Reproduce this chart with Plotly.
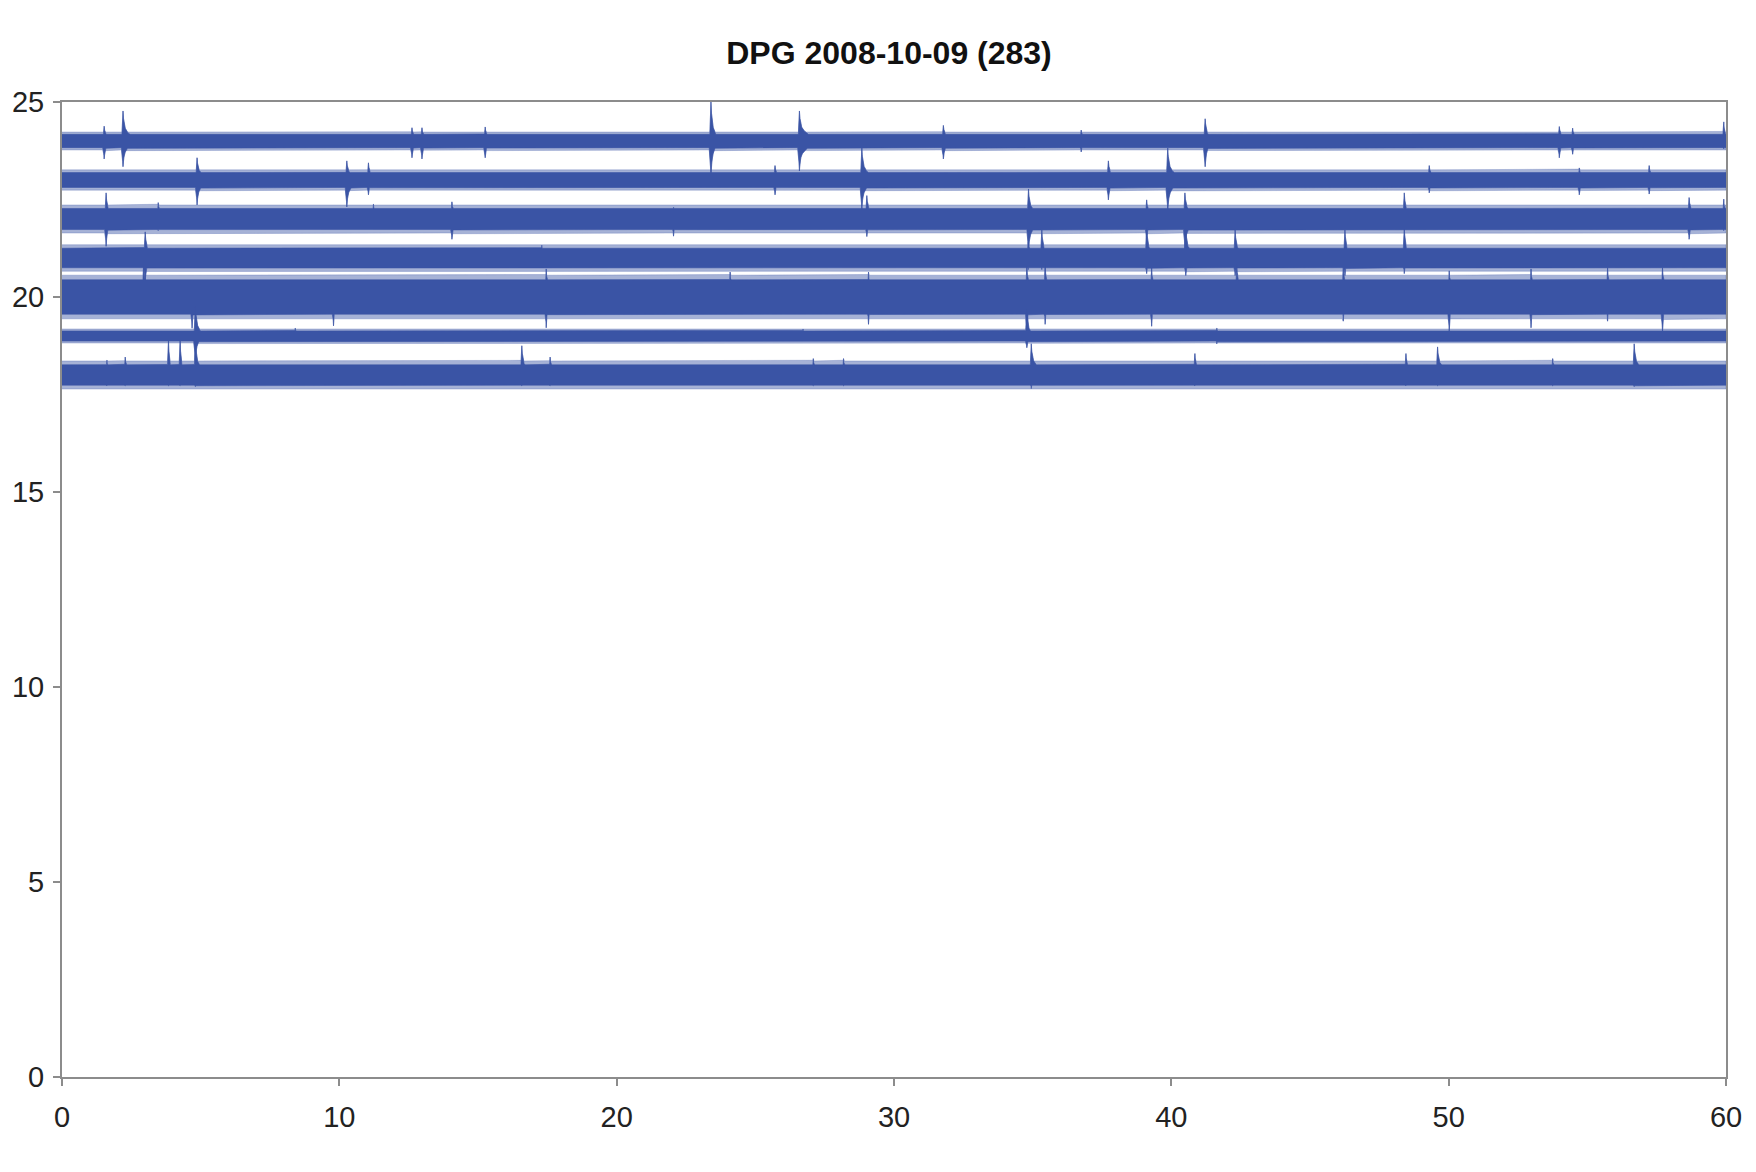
import numpy as np
import plotly.graph_objects as go

# ---------------- data ----------------
TITLE = "DPG 2008-10-09 (283)"
X_TICKS = [0, 10, 20, 30, 40, 50, 60]
Y_TICKS = [0, 5, 10, 15, 20, 25]

# Hour rows visible in the reference (vertical offsets of each trace)
row_offsets = [24, 23, 22, 21, 20, 19, 18]
# Background noise half-amplitude of each row (y units): dense core and fuzzy edge
noise_core = [0.17, 0.19, 0.27, 0.25, 0.44, 0.13, 0.26]
noise_edge = [0.23, 0.26, 0.36, 0.34, 0.56, 0.18, 0.36]

# Events per row: (minute, amplitude up, amplitude down, coda length in minutes)
events_24 = [(1.52, 0.38, 0.46, 0.15), (2.20, 0.77, 0.66, 0.25), (12.62, 0.34, 0.43, 0.12),
             (12.98, 0.34, 0.46, 0.12), (15.26, 0.36, 0.43, 0.10), (23.40, 1.00, 0.90, 0.15),
             (26.59, 0.77, 0.77, 0.35), (31.78, 0.40, 0.46, 0.20), (36.75, 0.28, 0.28, 0.10),
             (41.22, 0.57, 0.66, 0.15), (53.99, 0.37, 0.43, 0.12), (54.47, 0.33, 0.34, 0.10),
             (59.92, 0.49, 0.20, 0.05)]
events_23 = [(4.87, 0.57, 0.64, 0.25), (10.27, 0.49, 0.69, 0.25), (11.05, 0.44, 0.38, 0.10),
             (25.71, 0.37, 0.38, 0.12), (28.84, 0.82, 0.75, 0.25), (37.73, 0.49, 0.51, 0.15),
             (39.87, 0.82, 0.80, 0.25), (49.30, 0.37, 0.33, 0.15), (54.71, 0.31, 0.38, 0.15),
             (57.23, 0.37, 0.36, 0.12)]
events_22 = [(1.59, 0.67, 0.70, 0.15), (3.47, 0.42, 0.30, 0.10), (11.23, 0.38, 0.26, 0.10),
             (14.06, 0.44, 0.52, 0.20), (22.05, 0.30, 0.44, 0.10), (29.02, 0.60, 0.45, 0.25),
             (34.85, 0.77, 0.86, 0.30), (39.11, 0.49, 0.52, 0.20), (40.49, 0.67, 0.77, 0.30),
             (48.40, 0.67, 0.28, 0.15), (58.67, 0.55, 0.52, 0.20), (59.92, 0.51, 0.30, 0.05)]
events_21 = [(3.00, 0.67, 0.60, 0.15), (17.30, 0.33, 0.26, 0.10), (34.84, 0.40, 0.30, 0.10),
             (35.33, 0.72, 0.30, 0.15), (39.11, 0.80, 0.40, 0.15), (40.52, 0.77, 0.45, 0.20),
             (42.30, 0.72, 0.45, 0.20), (46.26, 0.72, 0.45, 0.12), (48.40, 0.77, 0.40, 0.12)]
events_20 = [(2.94, 0.80, 0.41, 0.10), (4.69, 0.41, 0.80, 0.10), (9.79, 0.41, 0.74, 0.10),
             (17.46, 0.72, 0.79, 0.10), (24.09, 0.64, 0.41, 0.10), (29.08, 0.64, 0.70, 0.12),
             (34.79, 0.80, 0.90, 0.15), (35.45, 0.85, 0.70, 0.12), (39.29, 0.75, 0.75, 0.10),
             (42.36, 0.85, 0.45, 0.10), (46.20, 0.80, 0.62, 0.10), (50.02, 0.67, 0.90, 0.10),
             (52.97, 0.72, 0.79, 0.10), (55.73, 0.75, 0.62, 0.10), (57.71, 0.75, 0.90, 0.12)]
events_19 = [(4.81, 0.77, 0.60, 0.15), (8.41, 0.20, 0.14, 0.10), (26.72, 0.18, 0.14, 0.10),
             (34.79, 0.70, 0.30, 0.10), (41.64, 0.20, 0.20, 0.10)]
events_18 = [(1.62, 0.38, 0.28, 0.10), (2.28, 0.46, 0.28, 0.10), (3.84, 0.90, 0.28, 0.05),
             (4.26, 0.90, 0.28, 0.05), (4.81, 0.90, 0.30, 0.20), (16.58, 0.75, 0.28, 0.20),
             (17.60, 0.46, 0.28, 0.10), (27.09, 0.42, 0.28, 0.10), (28.18, 0.42, 0.28, 0.10),
             (34.95, 0.80, 0.35, 0.35), (40.85, 0.55, 0.28, 0.10), (48.46, 0.55, 0.28, 0.10),
             (49.60, 0.72, 0.28, 0.30), (53.75, 0.42, 0.28, 0.10), (56.69, 0.80, 0.30, 0.30)]
row_events = [events_24, events_23, events_22, events_21, events_20, events_19, events_18]

# ---------------- styling ----------------
TRACE_COLOR = "#3A54A5"
EDGE_COLOR = "rgba(58,84,165,0.45)"
FRAME_COLOR = "#8C8C8C"
FONT = "Liberation Sans, Arial, sans-serif"
PAGE_PAD = 8  # default body margin of the html page

xs = np.linspace(X_TICKS[0], X_TICKS[-1], 12001)
RISE = 0.05
TIP = 0.03


def envelope(base, evts, which, scale=1.0):
    env = np.full_like(xs, base)
    for (x0, a_up, a_dn, coda) in evts:
        amp = (a_up if which == "up" else a_dn) * scale
        after = 0.45 * np.exp(-(xs - x0) / TIP) + 0.55 * np.exp(-(xs - x0) / coda)
        shape = np.where(xs < x0, np.clip(1 - (x0 - xs) / RISE, 0, 1), after)
        env = np.maximum(env, amp * shape)
    return env


def band(off, up, dn, color):
    return go.Scatter(
        x=np.concatenate([xs, xs[::-1]]),
        y=np.concatenate([off + up, (off - dn)[::-1]]),
        mode="lines", fill="toself", fillcolor=color,
        line=dict(color=color, width=0.6),
        hoverinfo="skip", showlegend=False)


fig = go.Figure()
for off, core, edge, evts in zip(row_offsets, noise_core, noise_edge, row_events):
    fig.add_trace(band(off, envelope(edge, evts, "up"), envelope(edge, evts, "down"), EDGE_COLOR))
for off, core, edge, evts in zip(row_offsets, noise_core, noise_edge, row_events):
    fig.add_trace(band(off, envelope(core, evts, "up"), envelope(core, evts, "down"), TRACE_COLOR))

W, H = 1756 - PAGE_PAD, 1172 - PAGE_PAD
fig.update_layout(
    width=W, height=H,
    paper_bgcolor="white", plot_bgcolor="white",
    margin=dict(l=62 - PAGE_PAD, r=30, t=102 - PAGE_PAD, b=95),
    title=dict(text="<b>" + TITLE + "</b>", x=0.497, xref="paper", xanchor="center",
               y=1 - (52.5 - PAGE_PAD) / H, yref="container", yanchor="middle",
               font=dict(family=FONT, size=32, color="#111111")),
    font=dict(family=FONT, size=29, color="#222222"),
)
fig.update_xaxes(range=[X_TICKS[0], X_TICKS[-1]], tickvals=X_TICKS, automargin=False,
                 showgrid=False, zeroline=False, showline=True, mirror=True,
                 linecolor=FRAME_COLOR, linewidth=2, ticks="outside", ticklen=7,
                 tickcolor=FRAME_COLOR, tickwidth=2, ticklabelstandoff=6)
fig.update_yaxes(range=[Y_TICKS[0], Y_TICKS[-1]], tickvals=Y_TICKS, automargin=False,
                 showgrid=False, zeroline=False, showline=True, mirror=True,
                 linecolor=FRAME_COLOR, linewidth=2, ticks="outside", ticklen=7,
                 tickcolor=FRAME_COLOR, tickwidth=2, ticklabelstandoff=3)

fig.write_html("out.html")
